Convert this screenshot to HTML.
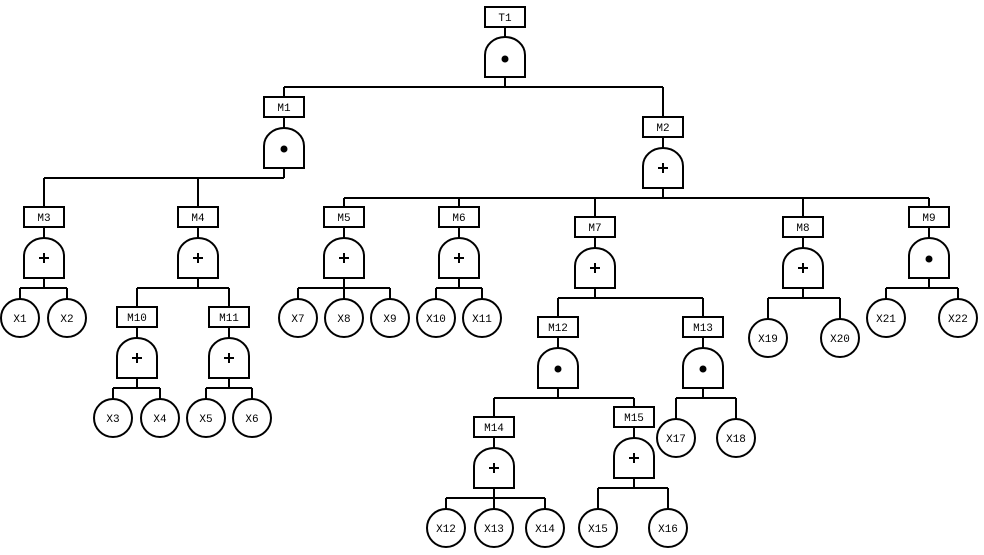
<!DOCTYPE html>
<html><head><meta charset="utf-8"><style>
html,body{margin:0;padding:0;background:#fff;}
svg{display:block}
text{font-family:"Liberation Mono",monospace;font-size:11px;fill:#000}
</style></head><body>
<svg width="984" height="555" viewBox="0 0 984 555" xmlns="http://www.w3.org/2000/svg">
<g fill="none" stroke="#000" stroke-width="2">
<!-- bars and connectors -->
<path d="M505 87 V77 M284 87 H663 M284 87 V97 M663 87 V117"/>
<path d="M284 178 V168 M44 178 H284 M44 178 V207 M198 178 V207"/>
<path d="M663 198 V188 M344 198 H929 M344 198 V207 M459 198 V207 M595 198 V217 M803 198 V217 M929 198 V207"/>
<path d="M44 288 V278 M20 288 H67 M20 288 V299 M67 288 V299"/>
<path d="M198 288 V278 M137 288 H229 M137 288 V307 M229 288 V307"/>
<path d="M137 388 V378 M113 388 H160 M113 388 V399 M160 388 V399"/>
<path d="M229 388 V378 M206 388 H252 M206 388 V399 M252 388 V399"/>
<path d="M344 288 V278 M298 288 H390 M298 288 V299 M344 288 V299 M390 288 V299"/>
<path d="M459 288 V278 M436 288 H482 M436 288 V299 M482 288 V299"/>
<path d="M595 298 V288 M558 298 H703 M558 298 V317 M703 298 V317"/>
<path d="M803 298 V288 M768 298 H840 M768 298 V319 M840 298 V319"/>
<path d="M929 288 V278 M886 288 H958 M886 288 V299 M958 288 V299"/>
<path d="M558 398 V388 M494 398 H634 M494 398 V417 M634 398 V407"/>
<path d="M703 398 V388 M676 398 H736 M676 398 V419 M736 398 V419"/>
<path d="M494 498 V488 M446 498 H545 M446 498 V509 M494 498 V509 M545 498 V509"/>
<path d="M634 488 V478 M598 488 H668 M598 488 V509 M668 488 V509"/>
<!-- box-to-gate stems -->
<path d="M505 27 V37 M284 117 V128 M663 137 V148 M44 227 V238 M198 227 V238 M137 327 V338 M229 327 V338 M344 227 V238 M459 227 V238 M595 237 V248 M803 237 V248 M929 227 V238 M558 337 V348 M703 337 V348 M494 437 V448 M634 427 V438"/>
<!-- boxes -->
<rect x="485" y="7" width="40" height="20"/>
<rect x="264" y="97" width="40" height="20"/>
<rect x="643" y="117" width="40" height="20"/>
<rect x="24" y="207" width="40" height="20"/>
<rect x="178" y="207" width="40" height="20"/>
<rect x="117" y="307" width="40" height="20"/>
<rect x="209" y="307" width="40" height="20"/>
<rect x="324" y="207" width="40" height="20"/>
<rect x="439" y="207" width="40" height="20"/>
<rect x="575" y="217" width="40" height="20"/>
<rect x="783" y="217" width="40" height="20"/>
<rect x="909" y="207" width="40" height="20"/>
<rect x="538" y="317" width="40" height="20"/>
<rect x="683" y="317" width="40" height="20"/>
<rect x="474" y="417" width="40" height="20"/>
<rect x="614" y="407" width="40" height="20"/>
<!-- gates: M cx-20 t+40 V t+18 A 20 18 0 0 1 cx+20 t+18 V t+40 Z -->
<path d="M485 77 V55 A20 18 0 0 1 525 55 V77 Z"/>
<path d="M264 168 V146 A20 18 0 0 1 304 146 V168 Z"/>
<path d="M643 188 V166 A20 18 0 0 1 683 166 V188 Z"/>
<path d="M24 278 V256 A20 18 0 0 1 64 256 V278 Z"/>
<path d="M178 278 V256 A20 18 0 0 1 218 256 V278 Z"/>
<path d="M117 378 V356 A20 18 0 0 1 157 356 V378 Z"/>
<path d="M209 378 V356 A20 18 0 0 1 249 356 V378 Z"/>
<path d="M324 278 V256 A20 18 0 0 1 364 256 V278 Z"/>
<path d="M439 278 V256 A20 18 0 0 1 479 256 V278 Z"/>
<path d="M575 288 V266 A20 18 0 0 1 615 266 V288 Z"/>
<path d="M783 288 V266 A20 18 0 0 1 823 266 V288 Z"/>
<path d="M909 278 V256 A20 18 0 0 1 949 256 V278 Z"/>
<path d="M538 388 V366 A20 18 0 0 1 578 366 V388 Z"/>
<path d="M683 388 V366 A20 18 0 0 1 723 366 V388 Z"/>
<path d="M474 488 V466 A20 18 0 0 1 514 466 V488 Z"/>
<path d="M614 478 V456 A20 18 0 0 1 654 456 V478 Z"/>
<!-- plus signs -->
<path d="M658 168 H668 M663 163 V173
 M39 258 H49 M44 253 V263
 M193 258 H203 M198 253 V263
 M132 358 H142 M137 353 V363
 M224 358 H234 M229 353 V363
 M339 258 H349 M344 253 V263
 M454 258 H464 M459 253 V263
 M590 268 H600 M595 263 V273
 M798 268 H808 M803 263 V273
 M489 468 H499 M494 463 V473
 M629 458 H639 M634 453 V463"/>
<!-- circles -->
<circle cx="20" cy="318" r="19"/><circle cx="67" cy="318" r="19"/>
<circle cx="113" cy="418" r="19"/><circle cx="160" cy="418" r="19"/>
<circle cx="206" cy="418" r="19"/><circle cx="252" cy="418" r="19"/>
<circle cx="298" cy="318" r="19"/><circle cx="344" cy="318" r="19"/><circle cx="390" cy="318" r="19"/>
<circle cx="436" cy="318" r="19"/><circle cx="482" cy="318" r="19"/>
<circle cx="768" cy="338" r="19"/><circle cx="840" cy="338" r="19"/>
<circle cx="886" cy="318" r="19"/><circle cx="958" cy="318" r="19"/>
<circle cx="676" cy="438" r="19"/><circle cx="736" cy="438" r="19"/>
<circle cx="446" cy="528" r="19"/><circle cx="494" cy="528" r="19"/><circle cx="545" cy="528" r="19"/>
<circle cx="598" cy="528" r="19"/><circle cx="668" cy="528" r="19"/>
</g>
<!-- AND dots -->
<g fill="#000">
<circle cx="505" cy="59" r="3.5"/>
<circle cx="284" cy="149" r="3.5"/>
<circle cx="929" cy="259" r="3.5"/>
<circle cx="558" cy="369" r="3.5"/>
<circle cx="703" cy="369" r="3.5"/>
</g>
<g text-anchor="middle">
<text x="505" y="21">T1</text>
<text x="284" y="111">M1</text>
<text x="663" y="131">M2</text>
<text x="44" y="221">M3</text>
<text x="198" y="221">M4</text>
<text x="137" y="321">M10</text>
<text x="229" y="321">M11</text>
<text x="344" y="221">M5</text>
<text x="459" y="221">M6</text>
<text x="595" y="231">M7</text>
<text x="803" y="231">M8</text>
<text x="929" y="221">M9</text>
<text x="558" y="331">M12</text>
<text x="703" y="331">M13</text>
<text x="494" y="431">M14</text>
<text x="634" y="421">M15</text>
<text x="20" y="322">X1</text><text x="67" y="322">X2</text>
<text x="113" y="422">X3</text><text x="160" y="422">X4</text>
<text x="206" y="422">X5</text><text x="252" y="422">X6</text>
<text x="298" y="322">X7</text><text x="344" y="322">X8</text><text x="390" y="322">X9</text>
<text x="436" y="322">X10</text><text x="482" y="322">X11</text>
<text x="768" y="342">X19</text><text x="840" y="342">X20</text>
<text x="886" y="322">X21</text><text x="958" y="322">X22</text>
<text x="676" y="442">X17</text><text x="736" y="442">X18</text>
<text x="446" y="532">X12</text><text x="494" y="532">X13</text><text x="545" y="532">X14</text>
<text x="598" y="532">X15</text><text x="668" y="532">X16</text>
</g>
</svg>
</body></html>
